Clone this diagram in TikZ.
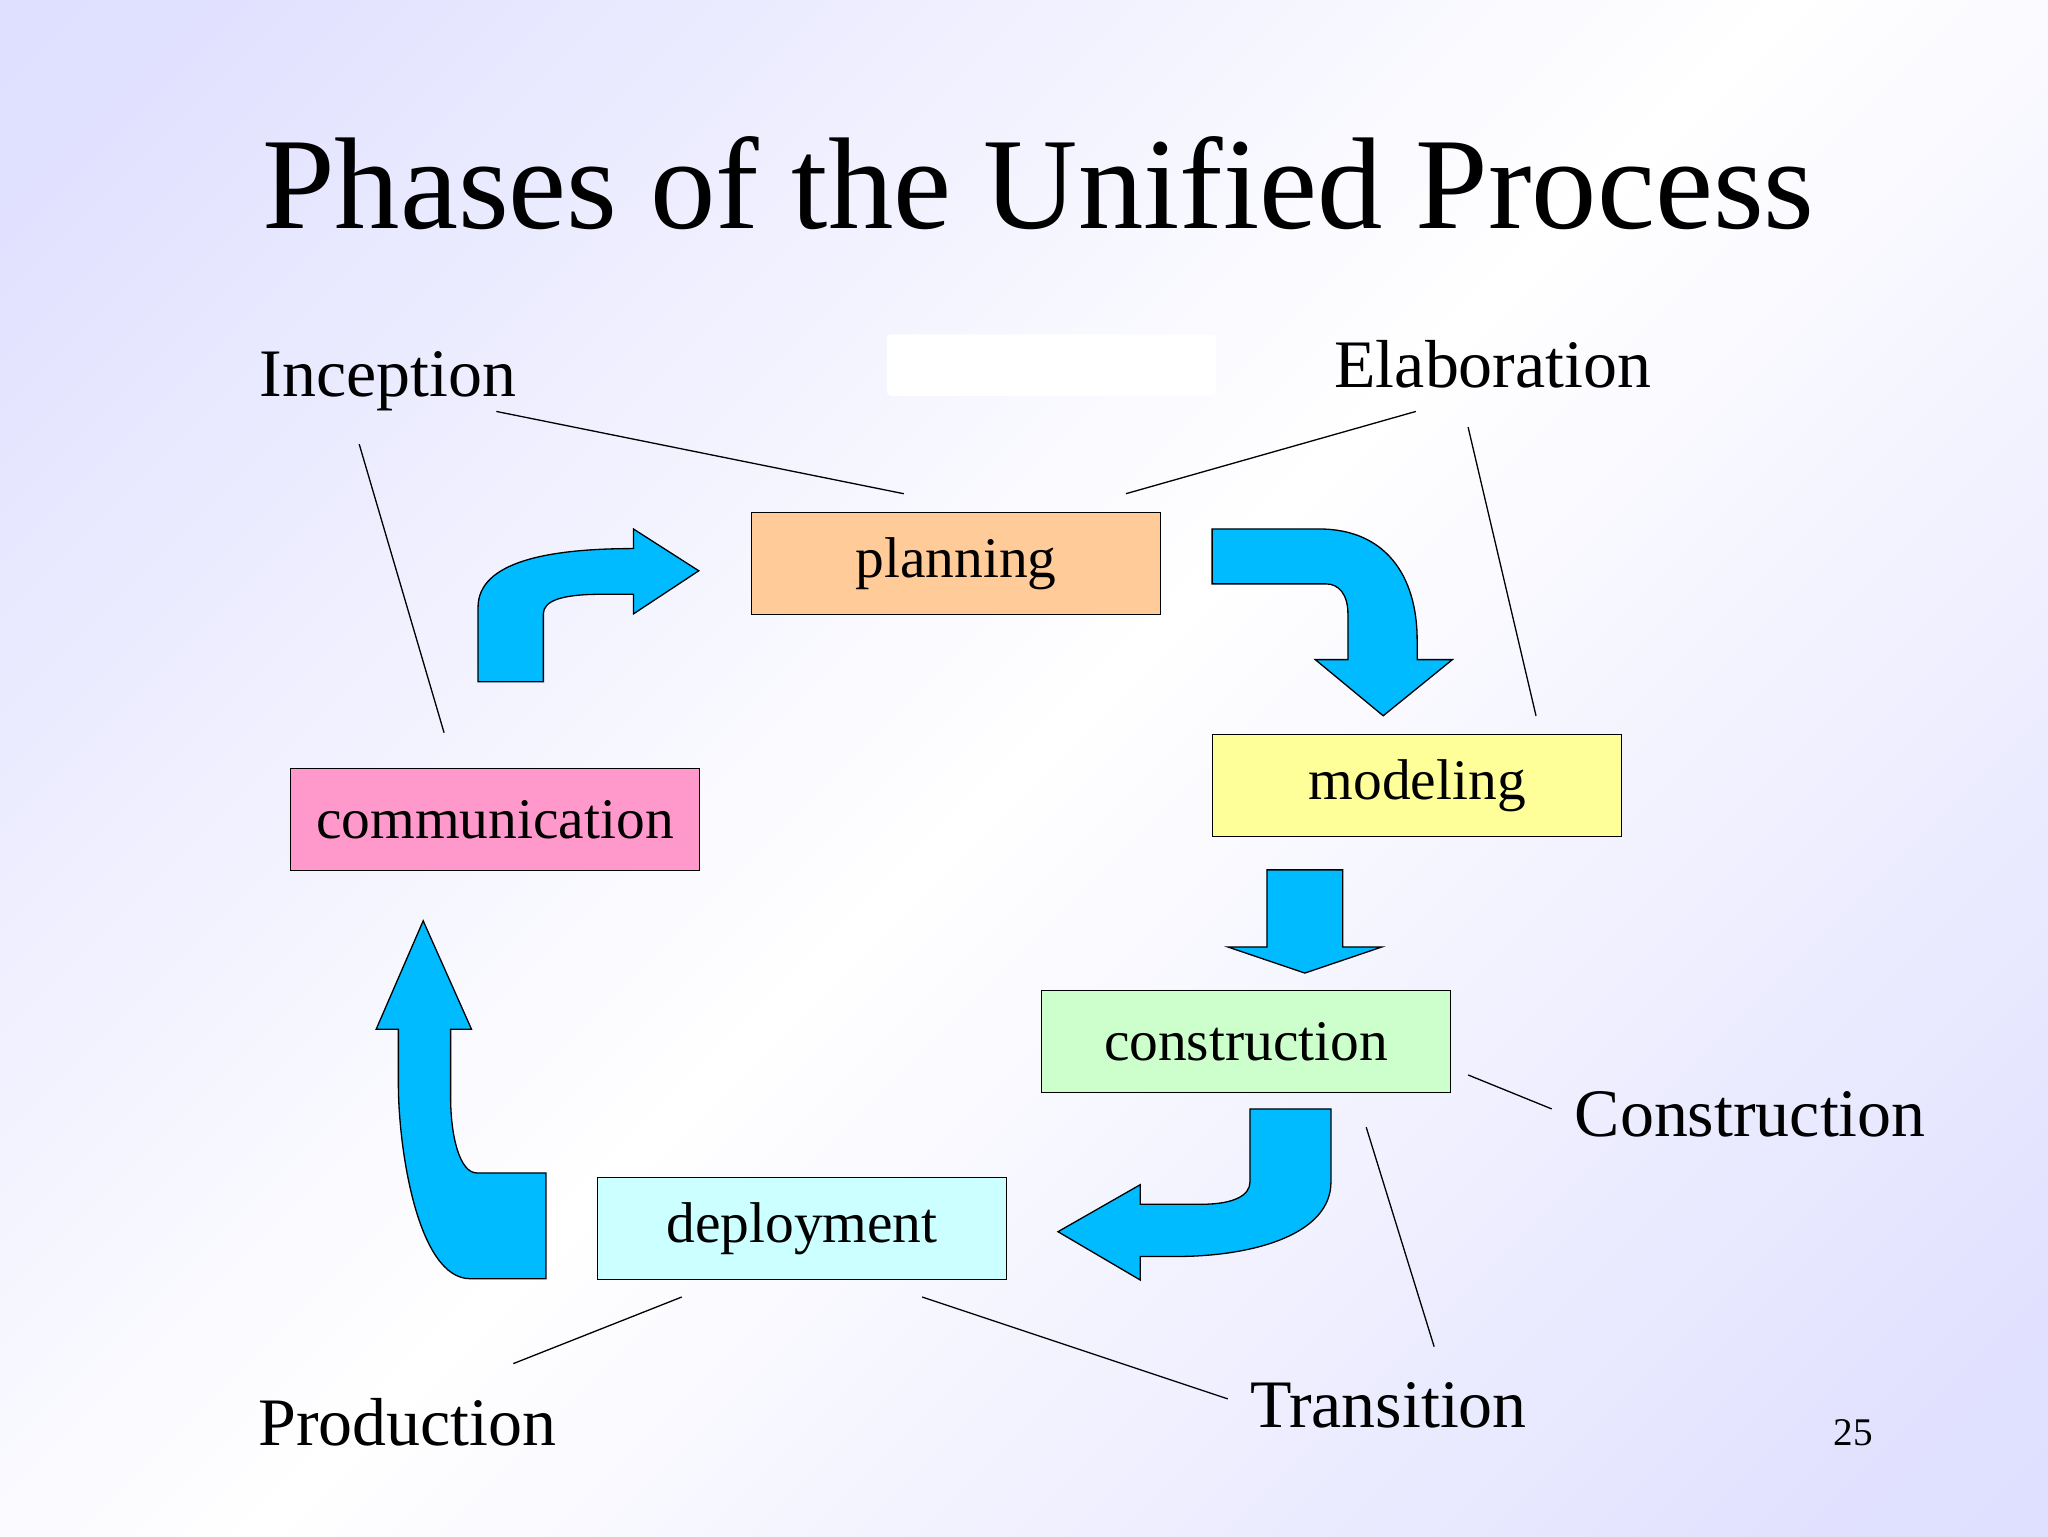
\documentclass[tikz,border=0pt]{standalone}
\usepackage{fontspec}
\setmainfont{Liberation Serif}
\definecolor{lav}{RGB}{204,204,255}
\definecolor{arr}{RGB}{0,187,255}
\definecolor{cpl}{RGB}{255,204,153}
\definecolor{cmo}{RGB}{255,255,153}
\definecolor{cco}{RGB}{255,153,204}
\definecolor{ccn}{RGB}{204,255,204}
\definecolor{cde}{RGB}{204,255,255}
\pgfdeclarehorizontalshading{bgsh}{100bp}{color(0bp)=(lav); color(30bp)=(lav!60!white); color(50bp)=(white); color(70bp)=(lav!60!white); color(100bp)=(lav)}
\begin{document}
\begin{tikzpicture}[x=1pt,y=-1pt,
  phase/.style={draw,line width=1pt,minimum width=313pt,minimum height=78pt,anchor=north west,font=\fontsize{44}{48}\selectfont,inner sep=0pt},
  lab/.style={font=\fontsize{52}{56}\selectfont},
  blk/.style={fill=arr,draw=black,line width=1pt,line join=miter},
  ln/.style={line width=1pt}]
\useasboundingbox (0,0) rectangle (1568,1176);
\shade[shading=bgsh,shading angle=135] (-400,-400) rectangle (1968,1576);
\path[use as bounding box] (0,0) rectangle (1568,1176);
\node[font=\fontsize{100}{110}\selectfont] (title) at (795,140) {Phases of the Unified Process};
\fill[white,rounded corners=3pt] (679,256) rectangle (931,303);
\node[phase,fill=cpl] (pl) at (575,392) {planning};
\node[phase,fill=cmo] (mo) at (928,562) {modeling};
\node[phase,fill=cco] (co) at (222,588) {communication};
\node[phase,fill=ccn] (cn) at (797,758) {construction};
\node[phase,fill=cde] (de) at (457,901) {deployment};
\node[lab] (inc) at (297,292) {Inception};
\node[lab] (ela) at (1143,279) {Elaboration};
\node[lab] (con) at (1340,853) {Construction};
\node[lab] (tra) at (1063,1076) {Transition};
\node[lab] (pro) at (312,1089) {Production};
\node[font=\fontsize{30}{34}\selectfont] (pg) at (1419,1097) {25};
\draw[ln] (380,315)--(692,378);
\draw[ln] (275,340)--(340,561);
\draw[ln] (1084,315)--(862,378);
\draw[ln] (1124,327)--(1176,548);
\draw[ln] (1124,823)--(1188,849);
\draw[ln] (1046,863)--(1098,1031);
\draw[ln] (706,993)--(940,1071);
\draw[ln] (522,993)--(393,1044);
% arrows
\draw[blk] (366,522) -- (366,465) .. controls (366,430) and (420,420) .. (485,420) -- (485,405) -- (535,437) -- (485,470) -- (485,455) -- (460,455) .. controls (430,455) and (416,460) .. (416,470) -- (416,522) -- cycle;
\draw[blk] (928,405) -- (1010,405) .. controls (1060,405) and (1085,440) .. (1085,490) -- (1085,505) -- (1112,505) -- (1059,548) -- (1007,505) -- (1032,505) -- (1032,470) .. controls (1032,455) and (1025,447) .. (1015,447) -- (928,447) -- cycle;
\draw[blk] (970,666) -- (1028,666) -- (1028,725) -- (1058,725) -- (999,745) -- (940,725) -- (970,725) -- cycle;
\draw[blk] (957,849) -- (1019,849) -- (1019,905) .. controls (1019,945) and (960,962) .. (900,962) -- (873,962) -- (873,980) -- (810,943) -- (873,907) -- (873,922) -- (920,922) .. controls (945,922) and (957,915) .. (957,905) -- cycle;
\draw[blk] (418,979) -- (360,979) .. controls (320,979) and (305,880) .. (305,830) -- (305,788) -- (288,788) -- (324,705) -- (361,788) -- (345,788) -- (345,840) .. controls (345,870) and (352,898) .. (365,898) -- (418,898) -- cycle;
\end{tikzpicture}
\end{document}
